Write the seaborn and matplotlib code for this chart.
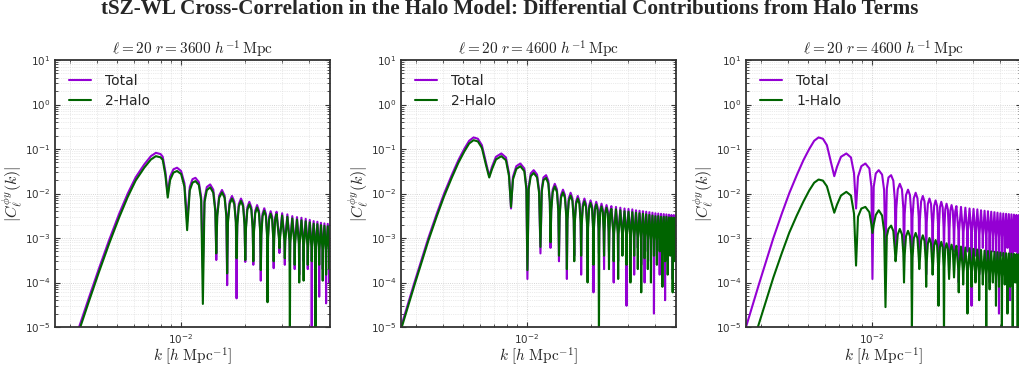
import matplotlib
matplotlib.use("Agg")
import matplotlib.pyplot as plt
import numpy as np
import seaborn as sns
from matplotlib.ticker import LogLocator, NullFormatter

# values: k in h/Mpc and |C_l^{phi y}(k)|
# r = 3600: smooth rise + first lobes, then each later lobe as
# (shoulder, knee, trough, knee, shoulder, peak) or (knee, trough, knee, peak)
k_r3600 = [
    0.0030, 0.0033, 0.00368, 0.0041, 0.00457, 0.0051, 0.0056, 0.0061, 0.0067, 0.0072,
    0.0076, 0.0080, 0.00819, 0.00843, 0.00865, 0.00887, 0.0092, 0.00957, 0.0100, 0.01037,
    0.01068, 0.01099, 0.01132, 0.01169, 0.01213, 0.01244, 0.01267, 0.0129, 0.01323, 0.01372,
    0.01419, 0.01451, 0.01466, 0.01481, 0.01513, 0.0156,
    0.01605, 0.01636, 0.0165, 0.01664, 0.01695, 0.01739,
    0.01783, 0.01814, 0.01828, 0.01842, 0.01873, 0.01918,
    0.01963, 0.01994, 0.02009, 0.02024, 0.02055, 0.0210,
    0.02147, 0.02178, 0.02193, 0.02208, 0.02239, 0.02285,
    0.02332, 0.02363, 0.02378, 0.02393, 0.02424, 0.0247,
    0.02514, 0.02545, 0.02559, 0.02573, 0.02604, 0.02648,
    0.02692, 0.02722, 0.02736, 0.0275, 0.0278, 0.02824,
    0.02898, 0.02912, 0.02926, 0.0300, 0.03074, 0.03088, 0.03102, 0.03175,
    0.03249, 0.03263, 0.03277, 0.0335, 0.03424, 0.03438, 0.03452, 0.03525,
    0.03599, 0.03613, 0.03627, 0.0370, 0.03774, 0.03788, 0.03802, 0.03875,
    0.03949, 0.03963, 0.03977, 0.0405, 0.04124, 0.04138, 0.04152, 0.04225,
    0.04299, 0.04313, 0.04327, 0.0440, 0.04474, 0.04488, 0.04502, 0.04575,
    0.04649, 0.04663, 0.04677, 0.0475, 0.04824, 0.04838, 0.04852, 0.04925,
    0.04999, 0.05013, 0.05027, 0.0510,
]
total_r3600 = [
    2.7e-6, 1.0e-5, 4.7e-5, 2.1e-4, 8.9e-4, 3.5e-3, 1.0e-2, 2.3e-2, 4.5e-2, 6.9e-2,
    8.2e-2, 7.7e-2, 6.7e-2, 3.1e-2, 9.6e-3, 2.4e-2, 3.5e-2, 3.8e-2, 3.2e-2, 1.7e-2,
    2.3e-3, 1.4e-2, 2.1e-2, 2.25e-2, 1.8e-2, 8.4e-3, 2.1e-4, 7.7e-3, 1.4e-2, 1.6e-2,
    1.22e-2, 4.5e-3, 3.2e-4, 3.4e-3, 9.0e-3, 1.2e-2,
    9.0e-3, 3.4e-3, 8.7e-5, 2.5e-3, 6.6e-3, 8.8e-3,
    6.6e-3, 2.5e-3, 4.4e-5, 2.2e-3, 5.8e-3, 7.7e-3,
    5.8e-3, 2.2e-3, 2.9e-4, 1.8e-3, 4.9e-3, 6.5e-3,
    4.9e-3, 1.8e-3, 2.5e-4, 1.5e-3, 4.1e-3, 5.5e-3,
    4.1e-3, 1.5e-3, 1.1e-4, 1.3e-3, 3.5e-3, 4.65e-3,
    3.5e-3, 1.3e-3, 2.0e-4, 1.1e-3, 3.0e-3, 4.0e-3,
    3.0e-3, 1.1e-3, 2.1e-4, 1.1e-3, 2.9e-3, 3.9e-3,
    1.1e-3, 4.6e-4, 1.0e-3, 3.6e-3, 1.0e-3, 2.5e-4, 0.95e-3, 3.4e-3,
    0.95e-3, 3.0e-4, 0.87e-3, 3.1e-3, 0.87e-3, 2.0e-4, 0.83e-3, 2.95e-3,
    0.83e-3, 1.5e-4, 0.8e-3, 2.85e-3, 0.8e-3, 3.0e-4, 0.76e-3, 2.7e-3,
    0.76e-3, 2.0e-4, 0.71e-3, 2.55e-3, 0.71e-3, 6.0e-6, 0.67e-3, 2.4e-3,
    0.67e-3, 2.5e-4, 0.65e-3, 2.32e-3, 0.65e-3, 4.8e-5, 0.62e-3, 2.2e-3,
    0.62e-3, 2.0e-4, 0.6e-3, 2.13e-3, 0.6e-3, 3.4e-5, 0.58e-3, 2.08e-3,
    0.58e-3, 1.0e-4, 0.57e-3, 2.05e-3,
]
halo2_r3600 = [
    2.2e-6, 8.3e-6, 3.9e-5, 1.75e-4, 7.4e-4, 2.9e-3, 8.4e-3, 1.95e-2, 3.8e-2, 5.8e-2,
    6.9e-2, 6.5e-2, 5.7e-2, 2.6e-2, 8.1e-3, 2.0e-2, 2.95e-2, 3.2e-2, 2.75e-2, 1.42e-2,
    1.5e-3, 1.18e-2, 1.75e-2, 1.9e-2, 1.56e-2, 7.0e-3, 3.3e-5, 6.4e-3, 1.19e-2, 1.38e-2,
    1.04e-2, 3.9e-3, 4.5e-4, 3.0e-3, 8.0e-3, 1.06e-2,
    8.0e-3, 3.0e-3, 1.6e-4, 2.2e-3, 5.8e-3, 7.7e-3,
    5.8e-3, 2.2e-3, 3.5e-4, 1.9e-3, 5.1e-3, 6.8e-3,
    5.1e-3, 1.9e-3, 3.2e-4, 1.6e-3, 4.3e-3, 5.7e-3,
    4.3e-3, 1.6e-3, 3.0e-4, 1.35e-3, 3.6e-3, 4.85e-3,
    3.6e-3, 1.35e-3, 1.9e-4, 1.15e-3, 3.1e-3, 4.1e-3,
    3.1e-3, 1.15e-3, 3.6e-5, 0.98e-3, 2.6e-3, 3.5e-3,
    2.6e-3, 0.98e-3, 3.0e-4, 0.97e-3, 2.6e-3, 3.45e-3,
    0.97e-3, 5.9e-4, 0.9e-3, 3.2e-3, 0.9e-3, 3.5e-4, 0.84e-3, 3.0e-3,
    0.84e-3, 5.0e-6, 0.77e-3, 2.75e-3, 0.77e-3, 2.5e-4, 0.73e-3, 2.6e-3,
    0.73e-3, 1.0e-4, 0.7e-3, 2.5e-3, 0.7e-3, 1.1e-4, 0.67e-3, 2.38e-3,
    0.67e-3, 2.5e-4, 0.63e-3, 2.25e-3, 0.63e-3, 3.0e-4, 0.59e-3, 2.1e-3,
    0.59e-3, 5.0e-6, 0.57e-3, 2.05e-3, 0.57e-3, 2.5e-4, 0.54e-3, 1.94e-3,
    0.54e-3, 1.1e-4, 0.53e-3, 1.88e-3, 0.53e-3, 1.5e-4, 0.51e-3, 1.83e-3,
    0.51e-3, 2.0e-4, 0.5e-3, 1.8e-3,
]

# r = 4600 (shared by the middle and right panels)
k_r4600 = [
    0.0024, 0.00254, 0.00294, 0.00342, 0.00375, 0.00406, 0.00441, 0.00474, 0.00505, 0.00533,
    0.00559, 0.00586, 0.00612, 0.00639, 0.00663, 0.00683, 0.00713, 0.00756, 0.00795, 0.00822,
    0.0084, 0.00858, 0.0089, 0.0093, 0.00971, 0.00993, 0.01004, 0.01018, 0.01041, 0.01075,
    0.01115, 0.0114, 0.01157, 0.01174, 0.01195, 0.0123,
    0.0126, 0.01281, 0.01291, 0.01301, 0.01322, 0.01352,
    0.01384, 0.01405, 0.01415, 0.01425, 0.01446, 0.01478,
    0.0151, 0.01532, 0.01542, 0.01552, 0.01574, 0.01606,
    0.01638, 0.01661, 0.01671, 0.01681, 0.01704, 0.01736,
    0.01768, 0.01791, 0.01801, 0.01811, 0.01834, 0.01866,
    0.01898, 0.01921, 0.01931, 0.01941, 0.01964, 0.01995,
    0.02027, 0.02049, 0.02059, 0.02069, 0.02091, 0.02122,
    0.02154, 0.02175, 0.02185, 0.02195, 0.02216, 0.02247,
    0.02279, 0.0230, 0.0231, 0.0232, 0.02341, 0.02373,
    0.02405, 0.02427, 0.02437, 0.02447, 0.02469, 0.02501,
    0.02555, 0.02565, 0.02575, 0.02629, 0.02683, 0.02693, 0.02703, 0.02757,
    0.02811, 0.02821, 0.02831, 0.02885, 0.02939, 0.02949, 0.02959, 0.03013,
    0.03067, 0.03077, 0.03087, 0.03141, 0.03195, 0.03205, 0.03215, 0.03269,
    0.03323, 0.03333, 0.03343, 0.03397, 0.03451, 0.03461, 0.03471, 0.03525,
    0.03579, 0.03589, 0.03599, 0.03653, 0.03707, 0.03717, 0.03727, 0.03781,
    0.03835, 0.03845, 0.03855, 0.03909, 0.03963, 0.03973, 0.03983, 0.04037,
    0.04091, 0.04101, 0.04111, 0.04165, 0.04219, 0.04229, 0.04239, 0.04293,
    0.04347, 0.04357, 0.04367, 0.04421, 0.04475, 0.04485, 0.04495, 0.04549,
    0.04603, 0.04613, 0.04623, 0.04677, 0.04731, 0.04741, 0.04751, 0.04805,
    0.04859, 0.04869, 0.04879, 0.04933, 0.04987, 0.04997, 0.05007, 0.05061,
]
total_r4600 = [
    4.6e-6, 1.0e-5, 1.0e-4, 1.0e-3, 3.55e-3, 1.0e-2, 2.58e-2, 5.6e-2, 0.100, 0.153,
    0.182, 0.170, 0.122, 0.0515, 0.0245, 0.0398, 0.0667, 0.0794, 0.0645, 0.0282,
    0.0046, 0.0237, 0.0411, 0.0472, 0.0365, 0.0141, 1.2e-4, 0.0141, 0.0282, 0.0335,
    0.0266, 0.0119, 4.5e-4, 0.0129, 0.0229, 0.0258,
    0.0194, 7.2e-3, 6.0e-4, 4.6e-3, 0.0124, 0.0165,
    0.0124, 4.6e-3, 3.0e-4, 3.4e-3, 9.2e-3, 0.0122,
    9.2e-3, 3.4e-3, 1.2e-4, 2.9e-3, 7.8e-3, 0.0104,
    7.8e-3, 2.9e-3, 4.0e-4, 2.5e-3, 6.6e-3, 0.0088,
    6.6e-3, 2.5e-3, 1.5e-4, 2.2e-3, 5.8e-3, 0.0077,
    5.8e-3, 2.2e-3, 3.5e-4, 2.0e-3, 5.3e-3, 0.0070,
    5.3e-3, 2.0e-3, 6.0e-5, 1.8e-3, 4.9e-3, 0.0065,
    4.9e-3, 1.8e-3, 4.5e-4, 1.65e-3, 4.4e-3, 0.0059,
    4.4e-3, 1.65e-3, 2.0e-4, 1.55e-3, 4.1e-3, 0.0055,
    4.1e-3, 1.55e-3, 5.0e-4, 1.45e-3, 3.9e-3, 0.0052,
    1.46e-3, 1.0e-4, 1.4e-3, 5.0e-3, 1.4e-3, 3.0e-4, 1.34e-3, 4.8e-3,
    1.34e-3, 5.0e-4, 1.29e-3, 4.6e-3, 1.29e-3, 3.0e-5, 1.26e-3, 4.5e-3,
    1.26e-3, 4.0e-4, 1.23e-3, 4.4e-3, 1.23e-3, 1.5e-4, 1.18e-3, 4.2e-3,
    1.18e-3, 6.0e-4, 1.15e-3, 4.1e-3, 1.15e-3, 2.5e-4, 1.12e-3, 4.0e-3,
    1.12e-3, 1.0e-4, 1.09e-3, 3.9e-3, 1.09e-3, 5.0e-4, 1.06e-3, 3.8e-3,
    1.06e-3, 3.0e-4, 1.04e-3, 3.7e-3, 1.04e-3, 2.0e-5, 1.01e-3, 3.6e-3,
    1.01e-3, 4.0e-4, 0.99e-3, 3.55e-3, 0.99e-3, 1.5e-4, 0.98e-3, 3.5e-3,
    0.98e-3, 6.0e-4, 0.97e-3, 3.45e-3, 0.97e-3, 4.0e-5, 0.95e-3, 3.4e-3,
    0.95e-3, 3.0e-4, 0.94e-3, 3.35e-3, 0.94e-3, 5.0e-4, 0.92e-3, 3.3e-3,
    0.92e-3, 1.2e-4, 0.92e-3, 3.28e-3, 0.92e-3, 4.0e-4, 0.91e-3, 3.25e-3,
]
halo2_r4600 = [
    4.0e-6, 8.7e-6, 8.7e-5, 8.7e-4, 3.1e-3, 8.7e-3, 2.25e-2, 4.9e-2, 8.7e-2, 0.133,
    0.158, 0.148, 0.106, 0.045, 0.0229, 0.035, 0.058, 0.069, 0.056, 0.0245,
    0.0050, 0.0206, 0.0357, 0.041, 0.0317, 0.0123, 1.9e-4, 0.0123, 0.0245, 0.029,
    0.023, 0.0103, 6.3e-4, 0.0112, 0.0199, 0.0224,
    0.0168, 6.3e-3, 8.0e-4, 4.0e-3, 0.0108, 0.0144,
    0.0108, 4.0e-3, 4.0e-4, 3.0e-3, 8.0e-3, 0.0106,
    8.0e-3, 3.0e-3, 2.0e-4, 2.5e-3, 6.8e-3, 0.0090,
    6.8e-3, 2.5e-3, 3.0e-4, 2.2e-3, 5.8e-3, 0.0077,
    5.8e-3, 2.2e-3, 4.0e-4, 1.9e-3, 5.0e-3, 0.0067,
    5.0e-3, 1.9e-3, 1.0e-4, 1.7e-3, 4.6e-3, 0.0061,
    4.6e-3, 1.7e-3, 2.5e-4, 1.6e-3, 4.3e-3, 0.0057,
    4.3e-3, 1.6e-3, 5.0e-6, 1.4e-3, 3.8e-3, 0.0051,
    3.8e-3, 1.4e-3, 4.0e-4, 1.35e-3, 3.6e-3, 0.0048,
    3.6e-3, 1.35e-3, 2.0e-4, 1.26e-3, 3.4e-3, 0.0045,
    1.26e-3, 3.0e-4, 1.23e-3, 4.4e-3, 1.23e-3, 1.2e-4, 1.18e-3, 4.2e-3,
    1.18e-3, 4.0e-4, 1.12e-3, 4.0e-3, 1.12e-3, 2.5e-4, 1.09e-3, 3.9e-3,
    1.09e-3, 1.0e-4, 1.06e-3, 3.8e-3, 1.06e-3, 4.0e-4, 1.04e-3, 3.7e-3,
    1.04e-3, 2.0e-4, 1.01e-3, 3.6e-3, 1.01e-3, 6.0e-5, 0.98e-3, 3.5e-3,
    0.98e-3, 3.5e-4, 0.95e-3, 3.4e-3, 0.95e-3, 2.0e-4, 0.92e-3, 3.3e-3,
    0.92e-3, 1.0e-4, 0.9e-3, 3.2e-3, 0.9e-3, 4.0e-4, 0.87e-3, 3.1e-3,
    0.87e-3, 2.5e-4, 0.87e-3, 3.1e-3, 0.87e-3, 5.0e-4, 0.84e-3, 3.0e-3,
    0.84e-3, 8.0e-5, 0.84e-3, 3.0e-3, 0.84e-3, 3.0e-4, 0.84e-3, 3.0e-3,
    0.84e-3, 1.5e-4, 0.81e-3, 2.9e-3, 0.81e-3, 4.0e-4, 0.81e-3, 2.9e-3,
    0.81e-3, 6.0e-5, 0.8e-3, 2.85e-3, 0.8e-3, 3.0e-4, 0.78e-3, 2.8e-3,
]
halo1_r4600 = [
    6.0e-7, 1.4e-6, 1.3e-5, 1.3e-4, 4.6e-4, 1.3e-3, 3.2e-3, 6.6e-3, 1.17e-2, 1.75e-2,
    2.06e-2, 1.95e-2, 1.45e-2, 7.0e-3, 3.7e-3, 5.6e-3, 9.0e-3, 1.09e-2, 9.0e-3, 3.5e-3,
    2.4e-4, 3.0e-3, 4.6e-3, 5.0e-3, 3.8e-3, 2.0e-3, 1.3e-3, 2.0e-3, 3.3e-3, 4.2e-3,
    3.2e-3, 1.4e-3, 2.8e-5, 1.1e-3, 1.6e-3, 1.9e-3,
    1.43e-3, 5.3e-4, 3.0e-4, 4.5e-4, 1.2e-3, 1.6e-3,
    1.2e-3, 4.5e-4, 1.0e-4, 4.1e-4, 1.09e-3, 1.45e-3,
    1.09e-3, 4.1e-4, 8.0e-6, 3.6e-4, 9.8e-4, 1.3e-3,
    9.8e-4, 3.6e-4, 2.0e-4, 3.2e-4, 8.6e-4, 1.15e-3,
    8.6e-4, 3.2e-4, 8.0e-5, 2.8e-4, 7.5e-4, 1.0e-3,
    7.5e-4, 2.8e-4, 1.5e-4, 2.5e-4, 6.8e-4, 9.0e-4,
    6.8e-4, 2.5e-4, 3.0e-5, 2.3e-4, 6.2e-4, 8.2e-4,
    6.2e-4, 2.3e-4, 5.0e-6, 2.1e-4, 5.7e-4, 7.6e-4,
    5.7e-4, 2.1e-4, 1.2e-4, 2.0e-4, 5.3e-4, 7.1e-4,
    5.3e-4, 2.0e-4, 1.3e-4, 1.9e-4, 5.0e-4, 6.7e-4,
    1.9e-4, 6.0e-5, 1.8e-4, 6.4e-4, 1.8e-4, 9.0e-5, 1.7e-4, 6.1e-4,
    1.7e-4, 2.0e-5, 1.65e-4, 5.9e-4, 1.65e-4, 8.0e-5, 1.6e-4, 5.7e-4,
    1.6e-4, 1.0e-4, 1.55e-4, 5.5e-4, 1.55e-4, 4.0e-5, 1.5e-4, 5.4e-4,
    1.5e-4, 9.0e-5, 1.45e-4, 5.2e-4, 1.45e-4, 7.0e-6, 1.43e-4, 5.1e-4,
    1.43e-4, 7.0e-5, 1.4e-4, 5.0e-4, 1.4e-4, 1.0e-4, 1.37e-4, 4.9e-4,
    1.37e-4, 3.0e-5, 1.34e-4, 4.8e-4, 1.34e-4, 8.0e-5, 1.32e-4, 4.7e-4,
    1.32e-4, 5.0e-6, 1.29e-4, 4.6e-4, 1.29e-4, 9.0e-5, 1.27e-4, 4.55e-4,
    1.27e-4, 2.0e-5, 1.26e-4, 4.5e-4, 1.26e-4, 8.0e-5, 1.25e-4, 4.45e-4,
    1.25e-4, 6.0e-6, 1.23e-4, 4.4e-4, 1.23e-4, 1.0e-4, 1.22e-4, 4.35e-4,
    1.22e-4, 8.0e-6, 1.2e-4, 4.3e-4, 1.2e-4, 7.0e-5, 1.19e-4, 4.25e-4,
]

PURPLE = "#9400D3"
GREEN = "#006400"


def draw_panel(ax, k, total, halo, halo_label, r):
    assert len(k) == len(total) == len(halo)
    k = np.asarray(k)
    sns.lineplot(x=k, y=np.asarray(total), ax=ax, color=PURPLE, linewidth=1.5,
                 label="Total", estimator=None, sort=False)
    sns.lineplot(x=k, y=np.asarray(halo), ax=ax, color=GREEN, linewidth=1.5,
                 label=halo_label, estimator=None, sort=False)
    ax.set_xscale("log")
    ax.set_yscale("log")
    ax.set_xlim(0.00254, 0.0505)
    ax.set_ylim(1e-5, 10)
    ax.yaxis.set_major_locator(LogLocator(base=10, numticks=10))
    ax.yaxis.set_minor_locator(LogLocator(base=10, subs=np.arange(2, 10), numticks=10))
    ax.xaxis.set_minor_formatter(NullFormatter())
    ax.grid(True, which="major", color="#c8c8c8", linestyle=":", linewidth=0.6)
    ax.grid(True, which="minor", color="#d8d8d8", linestyle=":", linewidth=0.5)
    ax.tick_params(which="both", direction="in", top=True, right=True,
                   colors="#333333", labelsize=7.5)
    ax.tick_params(which="major", length=3.5, width=0.8)
    ax.tick_params(which="minor", length=2, width=0.6)
    for sp in ax.spines.values():
        sp.set_color("#333333")
        sp.set_linewidth(1.3)
    ax.set_title(rf"$\ell=20\ r={r}\ h^{{-1}}\,\mathrm{{Mpc}}$", fontsize=11, pad=3)
    ax.set_xlabel(r"$k\ [h\ \mathrm{Mpc}^{-1}]$", fontsize=11)
    ax.set_ylabel(r"$|C_\ell^{\phi y}(k)|$", fontsize=11.5)
    ax.xaxis.set_label_coords(0.5, -0.07)
    ax.yaxis.set_label_coords(-0.11, 0.5)
    ax.legend(loc="upper left", frameon=False, fontsize=10, handlelength=1.6,
              handletextpad=1.0, labelspacing=0.45, borderaxespad=0.6)


sns.set_style("ticks")
plt.rcParams["font.family"] = ["DejaVu Sans"]
plt.rcParams["mathtext.fontset"] = "cm"

fig = plt.figure(figsize=(10.19, 3.69), dpi=100)
ax1 = fig.add_axes([0.0540, 0.1138, 0.2699, 0.7236])
ax2 = fig.add_axes([0.3935, 0.1138, 0.2699, 0.7236])
ax3 = fig.add_axes([0.7321, 0.1138, 0.2699, 0.7236])

draw_panel(ax1, k_r3600, total_r3600, halo2_r3600, "2-Halo", 3600)
draw_panel(ax2, k_r4600, total_r4600, halo2_r4600, "2-Halo", 4600)
draw_panel(ax3, k_r4600, total_r4600, halo1_r4600, "1-Halo", 4600)

fig.text(0.5, 1 - 9.5 / 369,
         "tSZ-WL Cross-Correlation in the Halo Model: Differential Contributions from Halo Terms",
         ha="center", va="center", fontsize=15.2, fontweight="bold", family="Liberation Serif")

fig.savefig("out.png", dpi=100)
